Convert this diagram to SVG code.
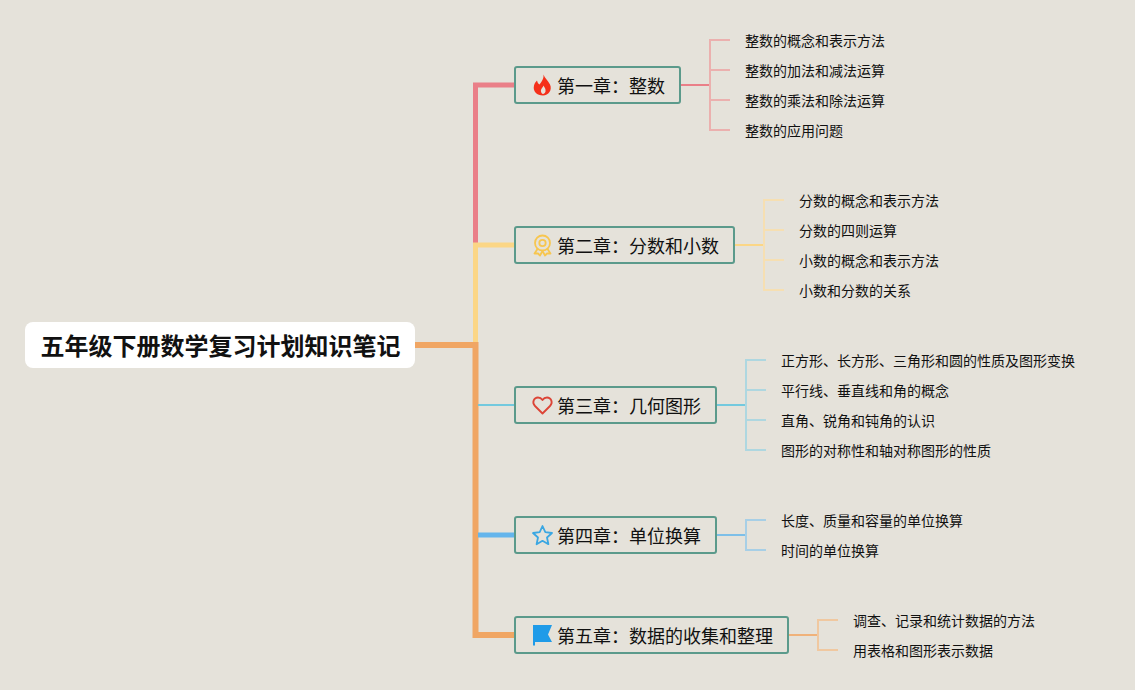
<svg xmlns="http://www.w3.org/2000/svg" width="1135" height="690" viewBox="0 0 1135 690">
<style>
text{font-family:"Noto Sans CJK SC","Liberation Sans",sans-serif;fill:#111}
.root{font-size:24px;font-weight:700}
.ch{font-size:18px}
.lf{font-size:14px}
.box{fill:#e5e2da;stroke:#5b9a8b;stroke-width:2}
.c{fill:none;stroke-linejoin:miter}
</style>
<rect width="1135" height="690" fill="#e5e2da"/>
<g id="connectors">
<g class="c" stroke-width="5">
<path d="M475.500 246V85H515" stroke="#ea7f88"/>
<path d="M475.500 345V245H515" stroke="#fbd686"/>
</g>
<path class="c" d="M415 345H475.500V635H515" stroke="#f0a664" stroke-width="6"/>
<path class="c" d="M478 405H515" stroke="#73c9de" stroke-width="2"/>
<path class="c" d="M478 535H515" stroke="#64b5ec" stroke-width="5"/>
<path class="c" d="M680 85H710" stroke="#ea7f88" stroke-width="2"/>
<path class="c" d="M730 40H710V130H730M710 70H730M710 100H730" stroke="#ebb0ae" stroke-width="2"/>
<path class="c" d="M734 245H764" stroke="#fbd686" stroke-width="2"/>
<path class="c" d="M784 200H764V290H784M764 230H784M764 260H784" stroke="#f6dfb2" stroke-width="2"/>
<path class="c" d="M716 405H746" stroke="#73c9de" stroke-width="2"/>
<path class="c" d="M766 360H746V450H766M746 390H766M746 420H766" stroke="#aed7e0" stroke-width="2"/>
<path class="c" d="M716 535H746" stroke="#7dbfe8" stroke-width="2"/>
<path class="c" d="M766 520H746V550H766" stroke="#a7cfe6" stroke-width="2"/>
<path class="c" d="M788 635H818" stroke="#f0b27a" stroke-width="2"/>
<path class="c" d="M838 620H818V650H838" stroke="#f0c8a0" stroke-width="2"/>
</g>
<g id="root">
<rect x="25" y="322" width="390" height="46" rx="8" fill="#fff"/>
<text class="root" x="40.500" y="355">五年级下册数学复习计划知识笔记</text>
</g>
<g id="ch1">
<rect class="box" x="515" y="67" width="165" height="36" rx="2"/>
<path d="M543.500 74.500C544.500 78 548 80.500 550 84.500C552.500 90 548.500 95.500 543 95.500C537 95.500 532.500 91.500 534 85.500C534.500 83.500 535.500 82 537 80.500C537.500 82.500 538 83.500 539.500 84.500C541.500 82 544 78.500 543.500 74.500ZM543.500 85.500C543 87.500 540.500 89 541 91.500C541.300 93 542 94 543 94C544 94 545.200 93 545.500 91.500C546 89 544.500 87.500 543.500 85.500Z" fill="#f5301a" fill-rule="evenodd"/>
<text class="ch" x="557" y="93">第一章：整数</text>
</g>
<g id="ch2">
<rect class="box" x="515" y="227" width="219" height="36" rx="2"/>
<g fill="none" stroke="#f7c64f" stroke-width="1.800" stroke-linejoin="round">
<circle cx="542.500" cy="243" r="7.500"/>
<circle cx="542.500" cy="243" r="3.200"/>
<path d="M537.500 249L534.500 253.500L538 253.500L540 255.500L542.500 251L545 255.500L547 253.500L550.500 253.500L547.500 249"/>
</g>
<text class="ch" x="557" y="253">第二章：分数和小数</text>
</g>
<g id="ch3">
<rect class="box" x="515" y="387" width="201" height="36" rx="2"/>
<path d="M542.500 413.500L535 406C531.500 402.500 534 397.500 538 397.500C540 397.500 541.500 398.500 542.500 400C543.500 398.500 545 397.500 547 397.500C551 397.500 553.500 402.500 550 406Z" fill="none" stroke="#dc4436" stroke-width="1.800" stroke-linejoin="round"/>
<text class="ch" x="557" y="413">第三章：几何图形</text>
</g>
<g id="ch4">
<rect class="box" x="515" y="517" width="201" height="36" rx="2"/>
<path d="M542.500 526L545.300 532.200L552 533L547 537.500L548.400 544.200L542.500 540.800L536.600 544.200L538 537.500L533 533L539.700 532.200Z" fill="none" stroke="#3ba7e2" stroke-width="1.800" stroke-linejoin="round"/>
<text class="ch" x="557" y="543">第四章：单位换算</text>
</g>
<g id="ch5">
<rect class="box" x="515" y="617" width="273" height="36" rx="2"/>
<path d="M533 625H552L548 634.500L552 642H535V645.500H533Z" fill="#1f9be8"/>
<text class="ch" x="557" y="643">第五章：数据的收集和整理</text>
</g>
<g id="leaves1">
<text class="lf" x="745" y="46">整数的概念和表示方法</text>
<text class="lf" x="745" y="76">整数的加法和减法运算</text>
<text class="lf" x="745" y="106">整数的乘法和除法运算</text>
<text class="lf" x="745" y="136">整数的应用问题</text>
</g>
<g id="leaves2">
<text class="lf" x="799" y="206">分数的概念和表示方法</text>
<text class="lf" x="799" y="236">分数的四则运算</text>
<text class="lf" x="799" y="266">小数的概念和表示方法</text>
<text class="lf" x="799" y="296">小数和分数的关系</text>
</g>
<g id="leaves3">
<text class="lf" x="781" y="366">正方形、长方形、三角形和圆的性质及图形变换</text>
<text class="lf" x="781" y="396">平行线、垂直线和角的概念</text>
<text class="lf" x="781" y="426">直角、锐角和钝角的认识</text>
<text class="lf" x="781" y="456">图形的对称性和轴对称图形的性质</text>
</g>
<g id="leaves4">
<text class="lf" x="781" y="526">长度、质量和容量的单位换算</text>
<text class="lf" x="781" y="556">时间的单位换算</text>
</g>
<g id="leaves5">
<text class="lf" x="853" y="626">调查、记录和统计数据的方法</text>
<text class="lf" x="853" y="656">用表格和图形表示数据</text>
</g>
</svg>
